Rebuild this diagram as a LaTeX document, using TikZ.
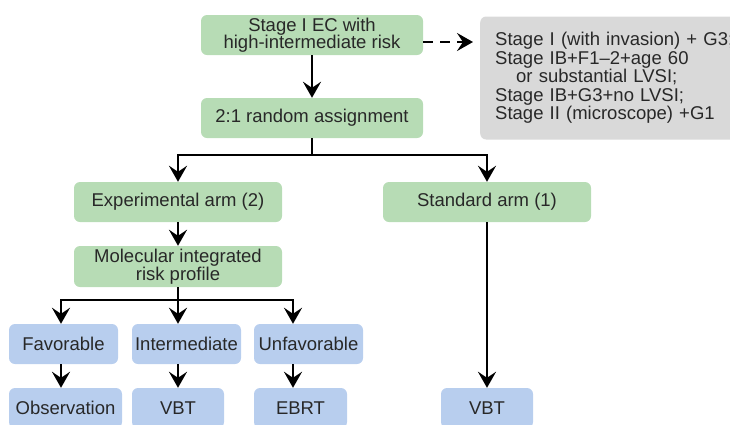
\documentclass[tikz,border=0pt]{standalone}
\usepackage{fontspec}
\setmainfont{Liberation Sans}
\usepackage{tikz}
\usetikzlibrary{arrows.meta}
\definecolor{boxgreen}{RGB}{183,220,181}
\definecolor{boxblue}{RGB}{184,206,238}
\definecolor{boxgray}{RGB}{217,217,217}
\definecolor{boxtext}{RGB}{40,40,40}
\tikzstyle{greenbox} = [fill=boxgreen, rectangle, rounded corners=6pt, text=boxtext,
    align=center, inner sep=0pt, font=\fontsize{18.5}{17.5}\selectfont]
\tikzstyle{bluebox} = [greenbox, fill=boxblue]
\tikzstyle{graybox} = [greenbox, fill=boxgray, align=left, inner xsep=15pt,
    text width=240pt, minimum height=123pt, font=\fontsize{18.5}{18.5}\selectfont]
\tikzstyle{flowline} = [line width=2.8pt, black]
\tikzstyle{flow} = [flowline, -{Stealth[length=16pt,width=18pt,inset=6pt]}]
\tikzstyle{dashflow} = [flow, dash pattern=on 10pt off 7pt]

\begin{document}
\begin{tikzpicture}[x=1pt, y=-1pt]
                \useasboundingbox (0,0) rectangle (730,424);
                \clip (0,0) rectangle (730,424);
                \node [greenbox, minimum width=222pt, minimum height=40pt] (init) at (312,35)
                    {Stage I EC with\\high-intermediate risk};
                \node [greenbox, minimum width=222pt, minimum height=40pt] (assign) at (312,118)
                    {2:1 random assignment};
                \node [graybox, anchor=west] (crit) at (480,78) {%
                    Stage I (with invasion) + G3;\\
                    Stage IB+F1--2+age 60\\
                    \hspace*{21pt}or substantial LVSI;\\
                    Stage IB+G3+no LVSI;\\
                    Stage II (microscope) +G1};
                \node [greenbox, minimum width=208pt, minimum height=40pt] (exp) at (178,202)
                    {Experimental arm (2)};
                \node [greenbox, minimum width=208pt, minimum height=40pt] (std) at (487,202)
                    {Standard arm (1)};
                \node [greenbox, minimum width=208pt, minimum height=41pt] (mol) at (178,266.5)
                    {Molecular integrated\\risk profile};
                \node [bluebox, minimum width=109pt, minimum height=40pt] (fav) at (63.5,344) {Favorable};
                \node [bluebox, minimum width=109pt, minimum height=40pt] (inter) at (186.5,344) {Intermediate};
                \node [bluebox, minimum width=109pt, minimum height=40pt] (unfav) at (308.5,344) {Unfavorable};
                \node [bluebox, minimum width=113pt, minimum height=40pt] (obs) at (65.5,408) {Observation};
                \node [bluebox, minimum width=92pt, minimum height=40pt] (vbt) at (178,408) {VBT};
                \node [bluebox, minimum width=93pt, minimum height=40pt] (ebrt) at (300.5,408) {EBRT};
                \node [bluebox, minimum width=92pt, minimum height=40pt] (stdvbt) at (487,408) {VBT};

                \coordinate (fork1) at (312,155);
                \coordinate (fork2) at (178,300);

                \draw [dashflow, shorten >=7pt] ([yshift=-7pt]init.east) -- ([yshift=-7pt]init.east -| crit.west);
                \draw [flow] (init) -- (assign);
                \draw [flowline] (assign.south) -- (fork1);
                \draw [flow] (fork1) -| (exp.north);
                \draw [flow] (fork1) -| (std.north);
                \draw [flow] (exp) -- (mol);
                \draw [flow] (std) -- (stdvbt);
                \draw [flowline] (mol.south) -- (fork2);
                \draw [flow] (fork2) -| ([xshift=-2.5pt]fav.north);
                \draw [flow] (fork2) -- ([xshift=-8.5pt]inter.north);
                \draw [flow] (fork2) -| ([xshift=-15.5pt]unfav.north);
                \draw [flow] ([xshift=-2.5pt]fav.south) -- ([xshift=-2.5pt]fav.south |- obs.north);
                \draw [flow] ([xshift=-8.5pt]inter.south) -- ([xshift=-8.5pt]inter.south |- vbt.north);
                \draw [flow] ([xshift=-15.5pt]unfav.south) -- ([xshift=-15.5pt]unfav.south |- ebrt.north);
            \end{tikzpicture}
\end{document}
